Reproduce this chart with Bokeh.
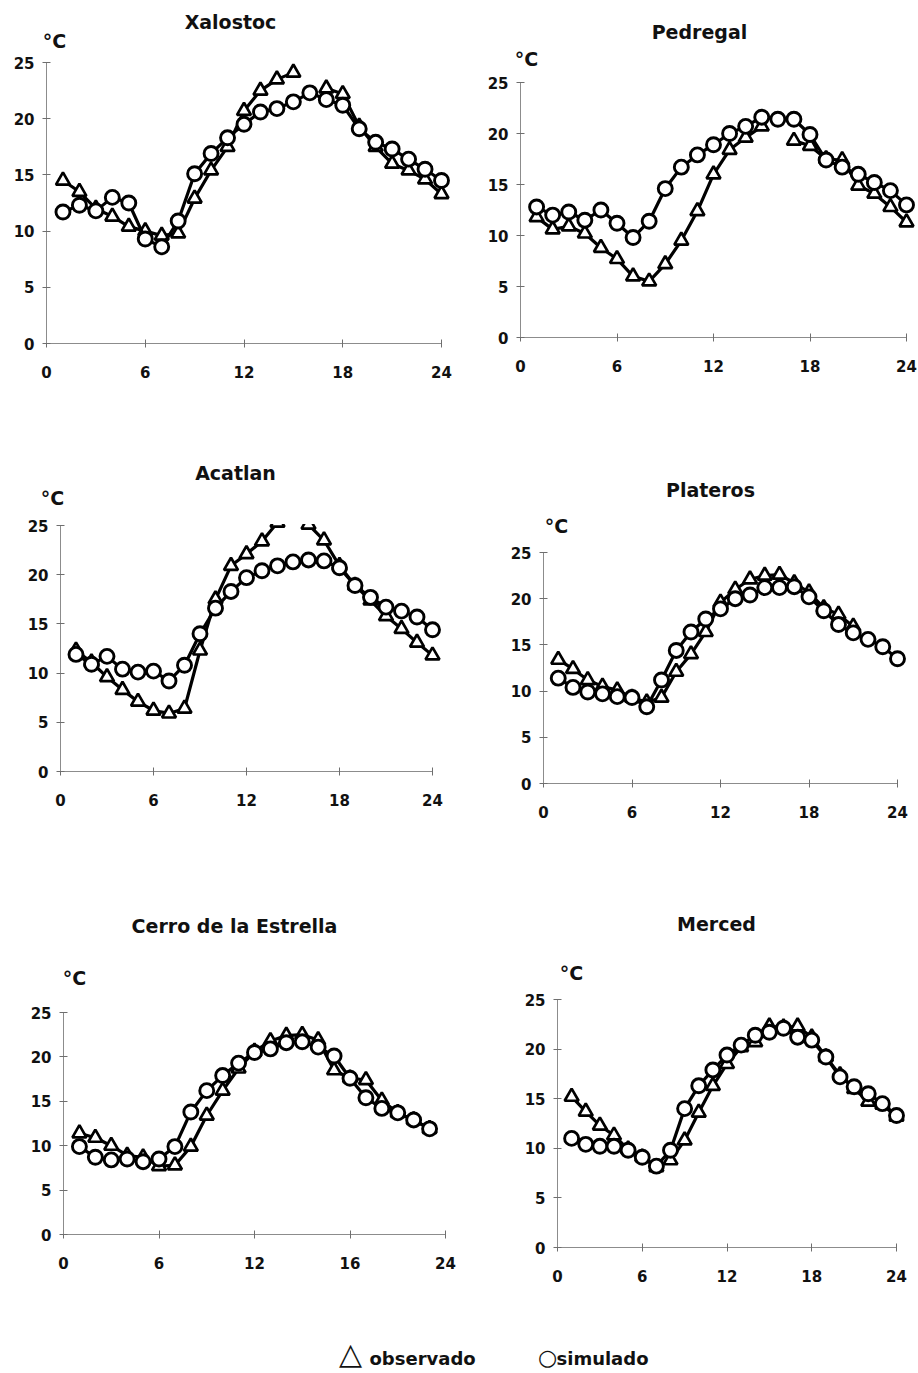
import numpy as np
from bokeh.plotting import figure
from bokeh.models import Range1d, FixedTicker, Label, BoxAnnotation
from bokeh.layouts import column, row
from bokeh.embed import file_html
from bokeh.resources import INLINE

NA = np.nan
hours = list(range(1, 25))
hours23 = list(range(1, 24))

xal_obs = [14.5, 13.5, 12.0, 11.3, 10.4, 10.0, 9.6, 9.8, 12.9, 15.4, 17.5, 20.7,
           22.5, 23.5, 24.1, NA, 22.7, 22.2, 19.3, 17.5, 16.0, 15.4, 14.6, 13.3]
xal_sim = [11.7, 12.3, 11.8, 13.0, 12.5, 9.3, 8.6, 10.9, 15.1, 16.9, 18.3, 19.5,
           20.6, 20.9, 21.5, 22.3, 21.7, 21.2, 19.1, 17.9, 17.3, 16.4, 15.5, 14.5]

ped_obs = [11.8, 10.6, 10.9, 10.2, 8.8, 7.7, 6.0, 5.5, 7.2, 9.5, 12.4, 16.0,
           18.4, 19.6, 20.7, NA, 19.3, 18.8, 17.5, 17.4, 14.9, 14.1, 12.8, 11.3]
ped_sim = [12.8, 12.0, 12.3, 11.5, 12.5, 11.2, 9.8, 11.4, 14.6, 16.7, 17.9, 18.9,
           20.0, 20.7, 21.6, 21.4, 21.4, 19.9, 17.4, 16.7, 16.0, 15.2, 14.4, 13.0]

aca_obs = [12.3, 11.1, 9.6, 8.3, 7.1, 6.2, 5.9, 6.4, 12.3, 17.5, 20.9, 22.1,
           23.4, 25.3, 25.9, 25.1, 23.5, 20.9, 18.9, 17.4, 15.8, 14.5, 13.1, 11.8]
aca_sim = [11.9, 10.9, 11.7, 10.4, 10.1, 10.2, 9.2, 10.8, 14.0, 16.6, 18.3, 19.7,
           20.4, 20.9, 21.3, 21.5, 21.4, 20.7, 18.9, 17.7, 16.7, 16.3, 15.7, 14.4]

pla_obs = [13.4, 12.4, 11.2, 10.5, 10.1, 9.3, 8.8, 9.3, 12.1, 14.0, 16.4, 19.6,
           21.0, 22.1, 22.5, 22.6, 21.7, 20.7, 19.0, 18.3, 17.0, NA, NA, NA]
pla_sim = [11.4, 10.4, 9.9, 9.7, 9.4, 9.3, 8.3, 11.2, 14.4, 16.4, 17.8, 18.9,
           20.0, 20.4, 21.2, 21.2, 21.3, 20.2, 18.7, 17.2, 16.3, 15.6, 14.8, 13.5]

cer_obs = [11.4, 10.9, 10.0, 8.9, 8.7, 7.7, 7.8, 9.9, 13.4, 16.2, 18.7, 20.6,
           21.8, 22.4, 22.5, 21.9, 18.5, 17.6, 17.4, 15.1, 13.7, 12.9, 11.9]
cer_sim = [9.9, 8.7, 8.4, 8.5, 8.2, 8.5, 9.9, 13.8, 16.2, 17.9, 19.3, 20.5,
           20.9, 21.6, 21.7, 21.1, 20.1, 17.6, 15.4, 14.2, 13.7, 12.9, 11.9]

mer_obs = [15.2, 13.7, 12.3, 11.3, 9.9, 9.1, 8.1, 8.8, 10.8, 13.6, 16.3, 18.5,
           20.2, 20.7, 22.3, 22.2, 22.3, 21.2, 19.2, 17.4, 16.0, 14.7, 14.4, 13.2]
mer_sim = [11.0, 10.4, 10.2, 10.2, 9.8, 9.1, 8.2, 9.8, 14.0, 16.3, 17.9, 19.4,
           20.4, 21.4, 21.7, 22.1, 21.2, 20.9, 19.2, 17.2, 16.2, 15.5, 14.5, 13.3]

x_ticks = [0, 6, 12, 18, 24]
y_ticks = [0, 5, 10, 15, 20, 25]
legend_labels = ["observado", "simulado"]
legend_symbols = ["△", "○"]

FONT = "DejaVu Sans"


def panel(title, hrs, obs, sim, fig_w, fig_h, x0, x24, y25, y0,
          title_xy, unit_xy, xlabels=None, clip_top=False):
    # x0, x24, y25, y0: pixel positions (within the figure) of the axis ends;
    # the frame fills the whole figure and the axes sit at the data origin
    pxh = (x24 - x0) / 24.0
    pyd = (y0 - y25) / 25.0
    p = figure(width=fig_w, height=fig_h,
               x_range=Range1d(-x0 / pxh, (fig_w - x0) / pxh),
               y_range=Range1d(-(fig_h - y0) / pyd, y0 / pyd),
               output_backend="svg", toolbar_location=None, title=None,
               min_border=0, min_border_left=0, min_border_right=0,
               min_border_top=0, min_border_bottom=0)
    p.outline_line_color = None
    p.grid.visible = False
    p.background_fill_color = "white"
    p.border_fill_color = "white"
    for ax in (p.xaxis[0], p.yaxis[0]):
        ax.fixed_location = 0
        ax.axis_line_color = "#8c8c8c"
        ax.axis_line_width = 1
        ax.major_tick_line_color = "#6e6e6e"
        ax.major_tick_in = 4
        ax.major_tick_out = 4
        ax.minor_tick_line_color = None
        ax.major_label_text_font = FONT
        ax.major_label_text_font_style = "bold"
        ax.major_label_text_font_size = "15px"
        ax.major_label_text_color = "#111111"
    p.xaxis.bounds = (0, 24)
    p.yaxis.bounds = (0, 25)
    p.xaxis.ticker = FixedTicker(ticks=x_ticks)
    p.yaxis.ticker = FixedTicker(ticks=y_ticks)
    p.xaxis.major_label_standoff = 18
    p.yaxis.major_label_standoff = 8
    if xlabels:
        p.xaxis.major_label_overrides = xlabels

    x = np.array(hrs, dtype=float)
    o = np.array(obs, dtype=float)
    s = np.array(sim, dtype=float)
    p.line(x, o, line_color="black", line_width=3.2)
    p.scatter(x, o, marker="triangle", size=14, fill_color="white",
              line_color="black", line_width=2.7)
    p.line(x, s, line_color="black", line_width=3.2)
    p.scatter(x, s, marker="circle", size=14, fill_color="white",
              line_color="black", line_width=2.9)

    if clip_top:
        # the plotting area of the original stops at 25 degrees
        p.add_layout(BoxAnnotation(left=0.3, bottom=25.15, fill_color="white",
                                   fill_alpha=1, line_color=None))

    def dx(px):
        return (px - x0) / pxh

    def dy(py):
        return (y0 - py) / pyd

    p.add_layout(Label(x=dx(title_xy[0]), y=dy(title_xy[1]), text=title,
                       text_align="center", text_baseline="middle",
                       text_font=FONT, text_font_style="bold",
                       text_font_size="19px", text_color="#111111"))
    p.add_layout(Label(x=dx(unit_xy[0]), y=dy(unit_xy[1]), text="°C",
                       text_align="center", text_baseline="middle",
                       text_font=FONT, text_font_style="bold",
                       text_font_size="19px", text_color="#111111"))
    return p


# Row 1 : y 0-420
p1 = panel("Xalostoc", hours, xal_obs, xal_sim, 460, 420,
           x0=46, x24=441, y25=62, y0=343,
           title_xy=(230, 21), unit_xy=(54, 40))
p2 = panel("Pedregal", hours, ped_obs, ped_sim, 458, 420,
           x0=60, x24=446, y25=82, y0=337,
           title_xy=(239, 31), unit_xy=(66, 58))
# Row 2 : y 420-870
p3 = panel("Acatlan", hours, aca_obs, aca_sim, 460, 450,
           x0=60, x24=432, y25=105, y0=351,
           title_xy=(235, 52), unit_xy=(52, 77), clip_top=True)
p4 = panel("Plateros", hours, pla_obs, pla_sim, 458, 450,
           x0=83, x24=437, y25=132, y0=363,
           title_xy=(250, 69), unit_xy=(96, 105))
# Row 3 : y 870-1300
p5 = panel("Cerro de la Estrella", hours23, cer_obs, cer_sim, 460, 430,
           x0=63, x24=445, y25=142, y0=364,
           title_xy=(234, 55), unit_xy=(74, 107), xlabels={18: "16"})
p6 = panel("Merced", hours, mer_obs, mer_sim, 458, 430,
           x0=97, x24=436, y25=129, y0=377,
           title_xy=(256, 53), unit_xy=(111, 102))

# Legend strip : y 1300-1373 (keys typed as text symbols, as in the original)
LEG_H = 73
leg = figure(width=918, height=LEG_H, x_range=Range1d(0, 918),
             y_range=Range1d(0, LEG_H), output_backend="svg",
             toolbar_location=None, title=None,
             x_axis_location=None, y_axis_location=None, min_border=0)
leg.outline_line_color = None
leg.grid.visible = False
for sym, lab, sx, sy, lx, sym_size in (
        (legend_symbols[0], legend_labels[0], 350, 1353, 369, "30px"),
        (legend_symbols[1], legend_labels[1], 547, 1357, 556, "22px")):
    leg.add_layout(Label(x=sx, y=1373 - sy, text=sym, text_align="center",
                         text_baseline="middle", text_font=FONT,
                         text_font_size=sym_size, text_color="#111111"))
    leg.add_layout(Label(x=lx, y=1373 - 1358, text=lab, text_align="left",
                         text_baseline="middle", text_font=FONT,
                         text_font_style="bold", text_font_size="18px",
                         text_color="#111111"))

layout = column(row(p1, p2), row(p3, p4), row(p5, p6), leg)
open("out.html", "w").write(file_html(layout, INLINE))
